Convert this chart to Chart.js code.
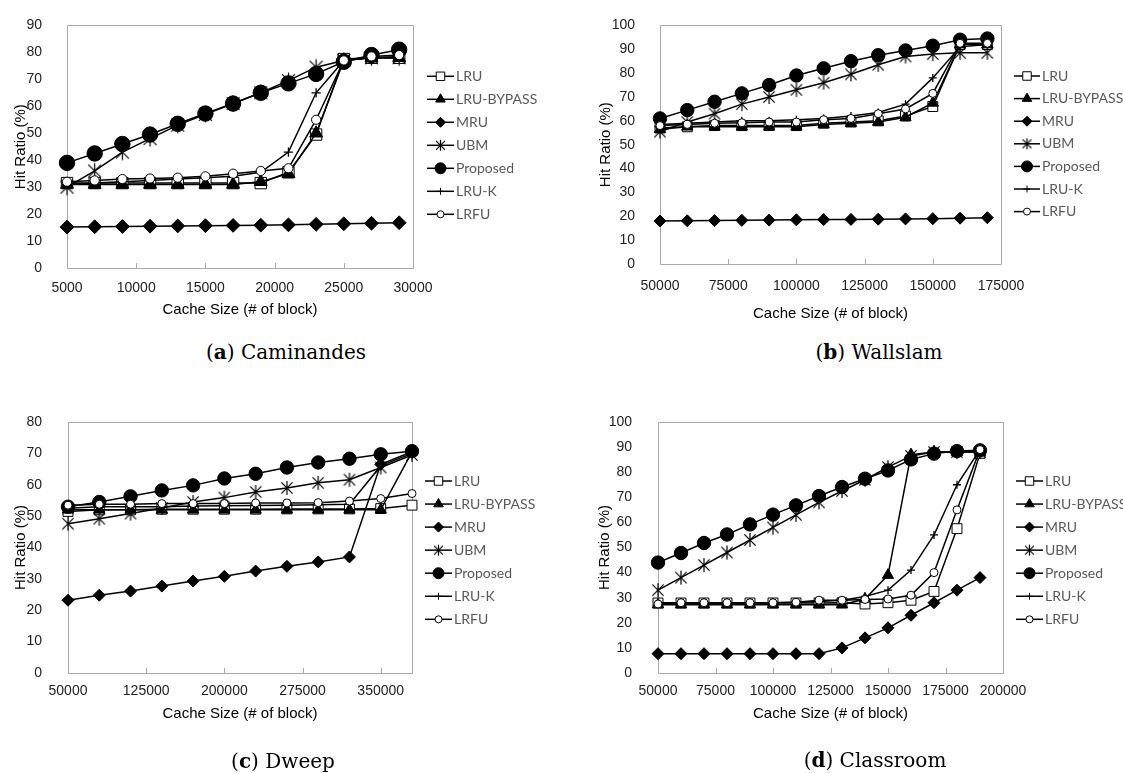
<!DOCTYPE html>
<html>
<head>
<meta charset="utf-8">
<script src="https://cdn.jsdelivr.net/npm/chart.js@4.4.1/dist/chart.umd.min.js"></script>
<style>
  body { margin: 0; background: #fff; width: 1123px; height: 773px; position: relative; overflow: hidden; }
  canvas { position: absolute; }
  .cap { position: absolute; font-family: 'DejaVu Serif', serif; font-size: 20px; color: #000;
         transform: translate(-50%, -50%); white-space: nowrap; }
</style>
</head>
<body>
<canvas id="chartA" width="560" height="330" style="left:0;top:0"></canvas>
<canvas id="chartB" width="533" height="330" style="left:590px;top:0"></canvas>
<canvas id="chartC" width="560" height="393" style="left:0;top:380px"></canvas>
<canvas id="chartD" width="533" height="393" style="left:590px;top:380px"></canvas>
<div class="cap" style="left:286px;top:352px">(<b>a</b>) Caminandes</div>
<div class="cap" style="left:879px;top:352px">(<b>b</b>) Wallslam</div>
<div class="cap" style="left:283px;top:761px">(<b>c</b>) Dweep</div>
<div class="cap" style="left:875px;top:760px">(<b>d</b>) Classroom</div>
<script>
const seriesNames = ['LRU', 'LRU-BYPASS', 'MRU', 'UBM', 'Proposed', 'LRU-K', 'LRFU'];

// (a) Caminandes
const sizesA = [5000, 7000, 9000, 11000, 13000, 15000, 17000, 19000, 21000, 23000, 25000, 27000, 29000];
const ticksA = [5000, 10000, 15000, 20000, 25000, 30000];
const lruA = [31.5, 31.5, 31.5, 31.5, 31.5, 31.5, 31.5, 31.5, 35.5, 49.5, 77.5, 78, 78];
const bypassA = [31, 31, 31, 31, 31, 31, 31, 32, 35, 50, 77, 78, 78];
const mruA = [15.2, 15.3, 15.4, 15.5, 15.6, 15.7, 15.8, 15.9, 16, 16.2, 16.4, 16.6, 16.8];
const ubmA = [30, 36, 43, 48, 53, 57, 61, 65, 69.5, 74.5, 77, 78, 78];
const propA = [39, 42.5, 46, 49.5, 53.5, 57.3, 61, 65, 68.5, 72, 76.5, 79, 81];
const lrukA = [31, 31.5, 32, 32.5, 33, 33.5, 34, 35.5, 43, 65, 77, 78, 78.5];
const lrfuA = [32, 32.5, 33, 33.2, 33.5, 34, 35, 36, 37, 55, 77, 78.5, 79];

// (b) Wallslam
const sizesB = [50000, 60000, 70000, 80000, 90000, 100000, 110000, 120000, 130000, 140000, 150000, 160000, 170000];
const ticksB = [50000, 75000, 100000, 125000, 150000, 175000];
const lruB = [57, 57.5, 58, 58, 58, 58, 59, 59.5, 60, 62, 66, 92, 92];
const bypassB = [56.5, 57.5, 57.5, 57.5, 57.5, 57.5, 58.5, 59, 59.5, 61.5, 67.5, 92, 92];
const mruB = [18, 18.1, 18.2, 18.3, 18.4, 18.5, 18.6, 18.7, 18.8, 18.9, 19, 19.2, 19.4];
const ubmB = [55.5, 59.5, 63, 67, 70, 73, 76, 79.5, 83.5, 87, 88, 88.5, 88.5];
const propB = [61, 64.5, 68, 71.5, 75, 79, 82, 85, 87.5, 89.5, 91.5, 94, 94.5];
const lrukB = [58.5, 59, 59.5, 60, 60, 60.5, 61, 62, 63.5, 67, 78, 91, 92];
const lrfuB = [58, 58.5, 59, 59.2, 59.5, 59.5, 60.5, 61, 63, 65, 71.5, 92.5, 92.5];

// (c) Dweep
const sizesC = [50000, 80000, 110000, 140000, 170000, 200000, 230000, 260000, 290000, 320000, 350000, 380000];
const ticksC = [50000, 125000, 200000, 275000, 350000];
const lruC = [51.5, 52, 52, 52.2, 52.2, 52.2, 52.2, 52.3, 52.3, 52.3, 52.4, 53.5];
const bypassC = [52, 52, 52, 52, 52, 52, 52, 52, 52, 52, 52, 70.5];
const mruC = [23.2, 24.8, 26.1, 27.7, 29.3, 30.8, 32.5, 34, 35.4, 37, 66.5, 70.5];
const ubmC = [47.6, 49.2, 50.8, 52.6, 54.5, 55.9, 57.7, 59, 60.6, 61.6, 65.5, 69.5];
const propC = [53, 54.5, 56.3, 58.2, 59.8, 62, 63.5, 65.5, 67.1, 68.3, 69.7, 70.7];
const lrukC = [52.5, 53, 53, 53, 53.2, 53.3, 53.4, 53.5, 53.6, 53.8, 66, 70];
const lrfuC = [53.5, 53.8, 53.8, 54, 54, 54, 54.2, 54.2, 54.3, 54.8, 55.6, 57.2];

// (d) Classroom
const sizesD = [50000, 60000, 70000, 80000, 90000, 100000, 110000, 120000, 130000, 140000, 150000, 160000, 170000, 180000, 190000];
const ticksD = [50000, 75000, 100000, 125000, 150000, 175000, 200000];
const lruD = [27.9, 27.9, 27.9, 27.9, 27.9, 27.9, 27.9, 27.9, 28, 27.5, 28, 29, 32.5, 57.5, 87.5];
const bypassD = [27.2, 27.2, 27.2, 27.2, 27.2, 27.2, 27.2, 27.2, 27.2, 29.5, 39, 87, 88, 88, 88];
const mruD = [7.7, 7.7, 7.7, 7.7, 7.7, 7.7, 7.7, 7.7, 10, 14, 18, 23, 28, 33, 38];
const ubmD = [33, 38, 43, 48, 53, 58, 63, 68, 72.5, 77, 82, 86.5, 88, 88, 88];
const propD = [44, 47.8, 51.8, 55.2, 59.2, 63.1, 66.8, 70.5, 74.1, 77.4, 80.7, 85.1, 87.4, 88.4, 88.7];
const lrukD = [28, 28, 28, 28, 28, 28, 28.2, 28.5, 29, 30.5, 33, 41, 55, 75, 89];
const lrfuD = [27.5, 28, 28, 28, 28, 28, 28.2, 29, 29, 29.3, 29.5, 31, 40, 65, 89];

// marker look per series (same order as seriesNames)
const markerStyles = [
    { pointStyle: 'rect', radius: 7, legendRadius: 6, fill: '#fff' },
    { pointStyle: 'triangle', radius: 6.5, legendRadius: 5.5, fill: '#000' },
    { pointStyle: 'rectRot', radius: 6, legendRadius: 5, fill: '#000' },
    { pointStyle: 'star', radius: 14, legendRadius: 11, fill: '#000' },
    { pointStyle: 'circle', radius: 6.7, legendRadius: 5.5, fill: '#000' },
    { pointStyle: 'cross', radius: 4, legendRadius: 3.5, fill: '#000' },
    { pointStyle: 'circle', radius: 4, legendRadius: 3.5, fill: '#fff' }
];

Chart.defaults.font.family = "'Liberation Sans', Arial, sans-serif";
Chart.defaults.color = '#222';

// excel-like asterisk: an X with a vertical stroke
function starImage(size) {
    const c = document.createElement('canvas');
    c.width = c.height = Math.ceil(size) + 2;
    const g = c.getContext('2d');
    const m = c.width / 2, h = size / 2, d = h * 0.8;
    g.strokeStyle = '#000';
    g.lineWidth = 1.2;
    g.beginPath();
    g.moveTo(m - d, m - d); g.lineTo(m + d, m + d);
    g.moveTo(m + d, m - d); g.lineTo(m - d, m + d);
    g.moveTo(m, m - h); g.lineTo(m, m + h);
    g.stroke();
    return c;
}

const framePlugin = {
    id: 'frame',
    beforeDatasetsDraw(chart) {
        const { ctx, chartArea: a } = chart;
        const x = chart.scales.x;
        ctx.save();
        ctx.strokeStyle = '#a9a9a9';
        ctx.lineWidth = 1;
        ctx.beginPath();
        ctx.rect(Math.round(a.left) + 0.5, Math.round(a.top) + 0.5, Math.round(a.right - a.left), Math.round(a.bottom - a.top));
        x.ticks.forEach(t => {
            const px = Math.round(x.getPixelForValue(t.value)) + 0.5;
            ctx.moveTo(px, a.bottom);
            ctx.lineTo(px, a.bottom - 5);
        });
        ctx.stroke();
        ctx.restore();
    }
};

const sideLegend = {
    id: 'sideLegend',
    afterDraw(chart, args, opts) {
        const ctx = chart.ctx;
        ctx.save();
        chart.data.datasets.forEach((ds, i) => {
            const y = opts.y + i * opts.gap;
            const m = markerStyles[i];
            ctx.strokeStyle = '#000';
            ctx.lineWidth = 1.5;
            ctx.beginPath();
            ctx.moveTo(opts.x, y);
            ctx.lineTo(opts.x + opts.len, y);
            ctx.stroke();
            ctx.fillStyle = m.fill;
            ctx.lineWidth = 1;
            const style = m.pointStyle === 'star' ? starImage(m.legendRadius) : m.pointStyle;
            Chart.helpers.drawPoint(ctx, { pointStyle: style, radius: m.legendRadius, rotation: 0, borderWidth: 1 },
                opts.x + opts.len / 2, y);
            ctx.fillStyle = '#595959';
            ctx.font = "14px Lato, 'Noto Sans', sans-serif";
            ctx.textAlign = 'left';
            ctx.textBaseline = 'middle';
            ctx.fillText(ds.label, opts.x + opts.len + 2, y);
        });
        ctx.restore();
    }
};

function makeChart(id, p) {
    const seriesValues = p.values;
    const datasets = seriesNames.map((name, i) => {
        const m = markerStyles[i];
        return {
            label: name,
            data: p.sizes.map((s, j) => ({ x: s, y: seriesValues[i][j] })),
            borderColor: '#000',
            borderWidth: 1.5,
            tension: 0,
            clip: false,
            order: 6 - i,
            pointStyle: m.pointStyle === 'star' ? starImage(m.radius * p.scale) : m.pointStyle,
            pointRadius: m.radius * p.scale,
            pointHoverRadius: m.radius * p.scale,
            pointBackgroundColor: m.fill,
            pointBorderColor: '#000',
            pointBorderWidth: m.pointStyle === 'cross' ? 1.3 : 1
        };
    });
    return new Chart(document.getElementById(id), {
        type: 'line',
        data: { datasets: datasets },
        options: {
            responsive: false,
            animation: false,
            layout: { padding: p.padding },
            plugins: {
                legend: { display: false },
                tooltip: { enabled: false },
                sideLegend: p.legend
            },
            scales: {
                x: {
                    type: 'linear',
                    min: p.xMin,
                    max: p.xMax,
                    afterBuildTicks: s => { s.ticks = p.ticks.map(v => ({ value: v })); },
                    afterFit: s => { s.height = p.xHeight; },
                    grid: { display: false },
                    border: { display: false },
                    ticks: { autoSkip: false, maxRotation: 0, padding: p.xTickPad, font: { size: 14 },
                             callback: v => String(v) },
                    title: { display: true, text: 'Cache Size (# of block)', color: '#000',
                             font: { size: 15 }, padding: { top: 0, bottom: 1 } }
                },
                y: {
                    min: 0,
                    max: p.yMax,
                    afterFit: s => { s.width = p.yWidth; },
                    grid: { display: false },
                    border: { display: false },
                    ticks: { stepSize: 10, padding: p.yTickPad, font: { size: 14 } },
                    title: { display: true, text: 'Hit Ratio (%)', color: '#000',
                             font: { size: 15 }, padding: { top: p.yTitlePad, bottom: 0 } }
                }
            }
        },
        plugins: [framePlugin, sideLegend]
    });
}

makeChart('chartA', {
    sizes: sizesA, ticks: ticksA, xMin: 5000, xMax: 30000, yMax: 90, scale: 1.15,
    values: [lruA, bypassA, mruA, ubmA, propA, lrukA, lrfuA],
    padding: { left: 0, top: 16, right: 147, bottom: 10 },
    yWidth: 67, xHeight: 52, xTickPad: 4, yTickPad: 17, yTitlePad: 11.7,
    legend: { x: 427, y: 76.3, gap: 23, len: 27 }
});

makeChart('chartB', {
    sizes: sizesB, ticks: ticksB, xMin: 50000, xMax: 175000, yMax: 100, scale: 1,
    values: [lruB, bypassB, mruB, ubmB, propB, lrukB, lrfuB],
    padding: { left: 0, top: 16, right: 122, bottom: 6 },
    yWidth: 70, xHeight: 60, xTickPad: 6, yTickPad: 17, yTitlePad: 7,
    legend: { x: 424, y: 76, gap: 22.6, len: 26 }
});

makeChart('chartC', {
    sizes: sizesC, ticks: ticksC, xMin: 50000, xMax: 380000, yMax: 80, scale: 1,
    values: [lruC, bypassC, mruC, ubmC, propC, lrukC, lrfuC],
    padding: { left: 0, top: 42, right: 148, bottom: 49 },
    yWidth: 68, xHeight: 51, xTickPad: 2, yTickPad: 18, yTitlePad: 11.8,
    legend: { x: 425, y: 101, gap: 23.05, len: 27 }
});

makeChart('chartD', {
    sizes: sizesD, ticks: ticksD, xMin: 50000, xMax: 200000, yMax: 100, scale: 1,
    values: [lruD, bypassD, mruD, ubmD, propD, lrukD, lrfuD],
    padding: { left: 0, top: 42, right: 120, bottom: 49 },
    yWidth: 68, xHeight: 51, xTickPad: 2, yTickPad: 18, yTitlePad: 5.7,
    legend: { x: 426, y: 101, gap: 23.05, len: 27 }
});
</script>
</body>
</html>
